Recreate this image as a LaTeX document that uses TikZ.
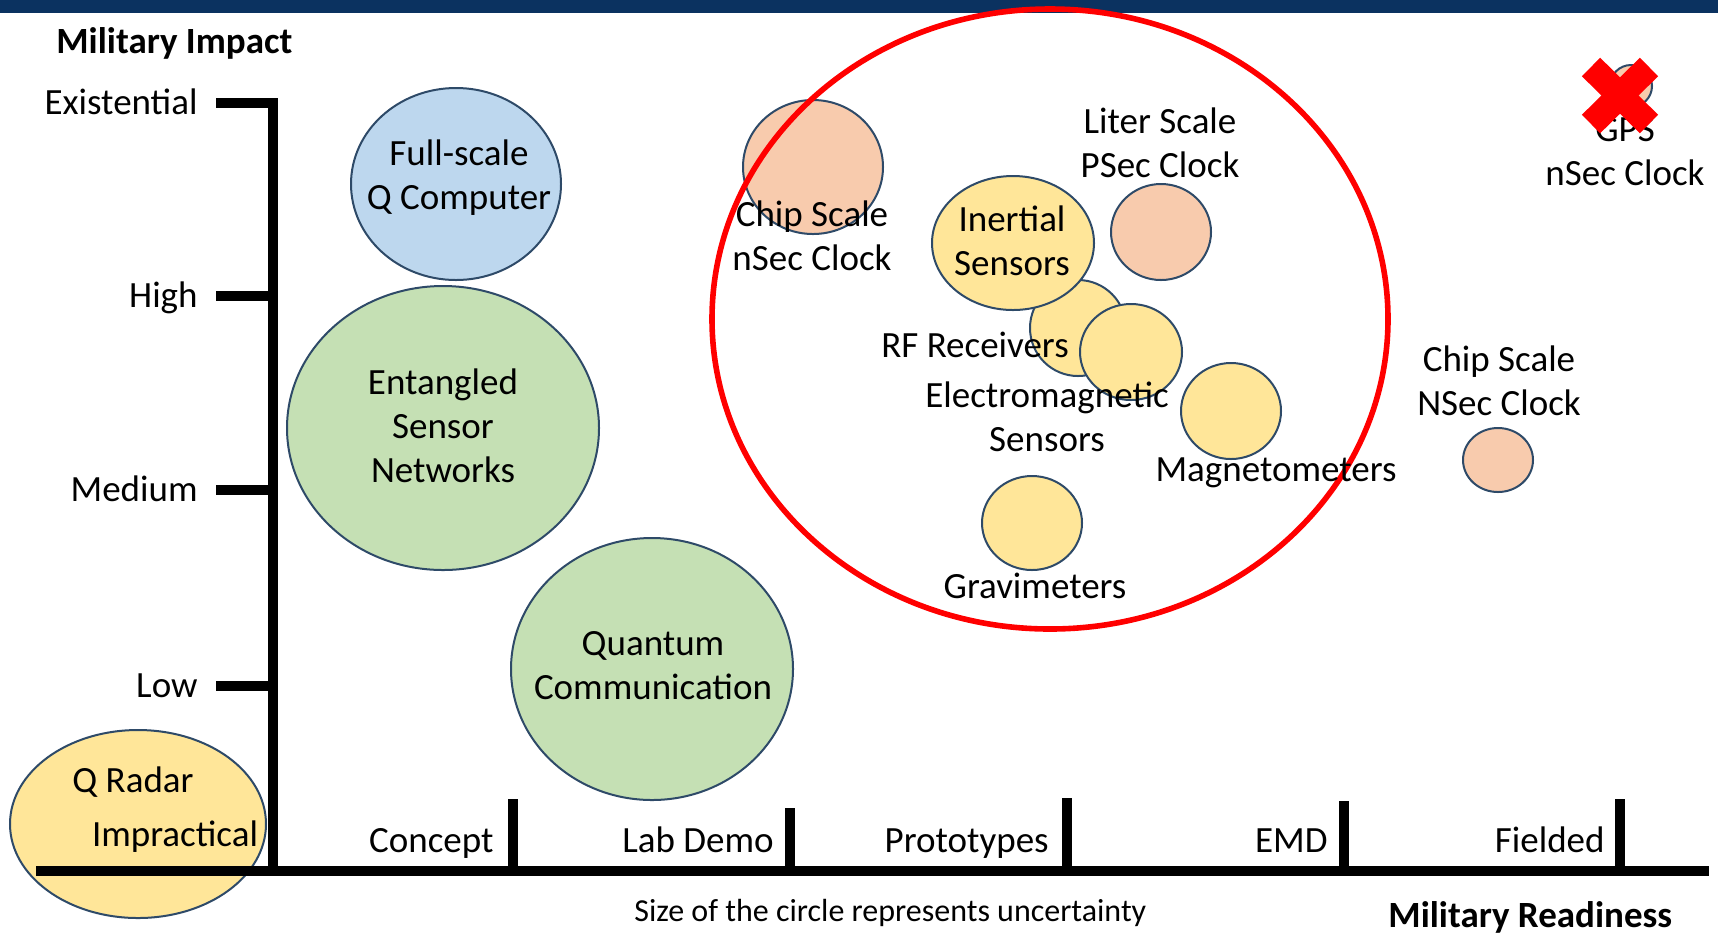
\documentclass[tikz,border=0pt]{standalone}
\usepackage{fontspec}
\setmainfont{Carlito}
\usetikzlibrary{positioning,shapes.geometric}
\definecolor{navy}{HTML}{0B3260}
\definecolor{bedge}{HTML}{2E4A68}
\definecolor{qblue}{HTML}{BDD7EE}
\definecolor{qgreen}{HTML}{C5E0B4}
\definecolor{qyellow}{HTML}{FFE699}
\definecolor{qpeach}{HTML}{F8CBAD}
\definecolor{qred}{HTML}{FF0000}
\tikzset{
  bub/.style={ellipse,draw=bedge,line width=1pt,inner sep=0pt,outer sep=0pt},
  txt/.style={align=center,inner sep=0pt,font=\fontsize{18.5}{22}\selectfont},
  ylab/.style={txt,anchor=base east},
  xlab/.style={txt,anchor=base east},
  ttl/.style={inner sep=0pt,anchor=base west,font=\fontsize{18.5}{22}\selectfont\bfseries},
  note/.style={inner sep=0pt,anchor=base west,font=\fontsize{16}{19}\selectfont},
  axis/.style={line width=5pt},
  ring/.style={ellipse,draw=qred,line width=2.8pt,inner sep=0pt},
  xmark/.style={draw=qred,line width=13pt}
}
\begin{document}
\begin{tikzpicture}[x=0.5pt,y=-0.5pt]
\useasboundingbox (0,0) rectangle (1718,934);
\fill[navy] (0,0) rectangle (1718,13);

% bubbles, minimum width/height = radius in px
\node[bub,fill=qblue,minimum width=105pt,minimum height=96pt] (qcomp) at (456,184) {};
\node[bub,fill=qgreen,minimum width=156pt,minimum height=142pt] (entang) at (443,428) {};
\node[bub,fill=qgreen,minimum width=141pt,minimum height=131pt] (qcomm) at (652,669) {};
\node[bub,fill=qyellow,minimum width=128pt,minimum height=94pt] (qradar) at (138,824) {};
\node[bub,fill=qpeach,minimum width=70pt,minimum height=67pt] (chipl) at (813,167) {};
\node[bub,fill=qyellow,minimum width=48pt,minimum height=48pt] (rfrec) at (1078,328) {};
\node[bub,fill=qyellow,minimum width=81pt,minimum height=67pt] (inert) at (1013,243) {};
\node[bub,fill=qpeach,minimum width=50pt,minimum height=48pt] (liter) at (1161,232) {};
\node[bub,fill=qyellow,minimum width=51pt,minimum height=48pt] (emag) at (1131,352) {};
\node[bub,fill=qyellow,minimum width=50pt,minimum height=48pt] (magn) at (1231,411) {};
\node[bub,fill=qyellow,minimum width=50pt,minimum height=47pt] (grav) at (1032,523) {};
\node[bub,fill=qpeach,minimum width=35pt,minimum height=32pt] (chipr) at (1498,460) {};
\node[bub,fill=qpeach,minimum width=21pt,minimum height=21pt] (gps) at (1631,86) {};

% near-term ring
\node[ring,minimum width=338pt,minimum height=310pt] (nearterm) at (1050,319) {};

% axes
\draw[axis] (216,103) -- (273,103) -- (273,871);
\foreach \y in {296,490,686} \draw[axis] (216,\y) -- (273,\y);
\draw[axis] (36,871) -- (1709,871);
\foreach \x/\t in {513/799,790/808,1067/798,1344/801,1620/799} \draw[axis] (\x,871) -- (\x,\t);

% axis labels
\node[ttl] (yttl) at (56,53) {Military Impact};
\node[ylab] (yexist) at (198,114) {Existential};
\node[ylab] (yhigh) at (198,307) {High};
\node[ylab] (ymed) at (198,501) {Medium};
\node[ylab] (ylow) at (198,697) {Low};
\node[xlab] (xconc) at (494,852) {Concept};
\node[xlab] (xlab) at (774,852) {Lab Demo};
\node[xlab] (xproto) at (1049,852) {Prototypes};
\node[xlab] (xemd) at (1328,852) {EMD};
\node[xlab] (xfield) at (1605,852) {Fielded};
\node[note] (size) at (634,921) {Size of the circle represents uncertainty};
\node[ttl] (xttl) at (1388,927) {Military Readiness};

% bubble texts
\node[txt] (qcomp-t) at (459,178) {Full-scale\\Q Computer};
\node[txt] (entang-t) at (443,426) {Entangled\\Sensor\\Networks};
\node[txt] (qcomm-t) at (653,666) {Quantum\\Communication};
\node[txt] (qradar-t) at (133,782) {Q Radar};
\node[txt] (imprac) at (175,837) {Impractical};
\node[txt] (chipl-t) at (812,236) {Chip Scale\\nSec Clock};
\node[txt] (inert-t) at (1012,241) {Inertial\\Sensors};
\node[txt] (liter-t) at (1160,143) {Liter Scale\\PSec Clock};
\node[txt] (rfrec-t) at (975,345) {RF Receivers};
\node[txt] (emag-t) at (1047,417) {Electromagnetic\\Sensors};
\node[txt] (magn-t) at (1276,473) {Magnetometers};
\node[txt] (grav-t) at (1035,586) {Gravimeters};
\node[txt] (chipr-t) at (1499,381) {Chip Scale\\NSec Clock};
\node[txt] (gps-t) at (1625,152) {GPS\\nSec Clock};

% GPS crossed out
\draw[xmark] (1591,67) -- (1649,124);
\draw[xmark] (1649,67) -- (1591,124);
\end{tikzpicture}
\end{document}
